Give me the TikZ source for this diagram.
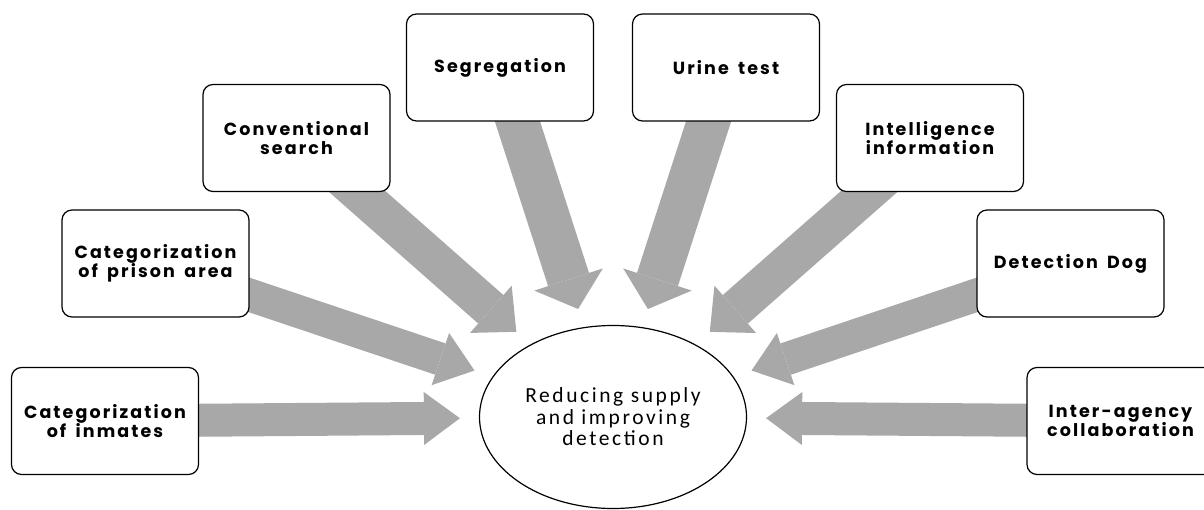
\documentclass[tikz,border=0pt]{standalone}
\usepackage{fontspec}
\setmainfont{Poppins}[LetterSpace=12, WordSpace=1.6]
\newfontfamily\goalfont[LetterSpace=12]{Carlito}
\usetikzlibrary{arrows.meta,shapes.geometric,backgrounds}
\definecolor{feedgray}{RGB}{168,168,168}
\tikzset{
  factor/.style={draw=black, line width=1.2pt, fill=white, rounded corners=10pt,
    minimum width=187pt, minimum height=107pt, align=center,
    font=\fontsize{17.5}{19}\selectfont\bfseries},
  feed/.style n args={3}{draw=feedgray, line width=#1, shorten >=19pt,
    -{Triangle[width=#2, length=#3, line width=0pt]}}
}
\begin{document}
\begin{tikzpicture}[x=1pt, y=-1pt]
  \useasboundingbox (0,0) rectangle (1204,510);
  % Centre goal
  \node[draw=black, line width=1.2pt, fill=white, ellipse, minimum width=267pt,
    minimum height=183pt, align=center, font=\goalfont\fontsize{21.5}{21.5}\selectfont]
    (goal) at (613,417) {Reducing supply\\and improving\\detection};
  % Measures around it
  \node[factor] (inmates) at (105,421)    {Categorization\\of inmates};
  \node[factor] (area)    at (155.5,263.5) {Categorization\\of prison area};
  \node[factor] (search)  at (296.5,138)  {Conventional\\search};
  \node[factor] (segr)    at (500,67.5)   {Segregation};
  \node[factor] (urine)   at (726,67.5)   {Urine test};
  \node[factor] (intel)   at (930,138)    {Intelligence\\information};
  \node[factor] (dog)     at (1070.5,263.5) {Detection Dog};
  \node[factor] (agency)  at (1120.5,421) {Inter-agency\\collaboration};
  % Block arrows into the goal
  \begin{scope}[on background layer]
    \draw[feed={33pt}{53pt}{36pt}] (inmates.center) -- (goal);
    \draw[feed={33pt}{55pt}{36pt}] (area.center) -- (goal);
    \draw[feed={38pt}{63pt}{34pt}] (search.center) -- (goal);
    \draw[feed={43pt}{72pt}{31pt}] (segr.center) -- (goal);
    \draw[feed={43pt}{72pt}{31pt}] (urine.center) -- (goal);
    \draw[feed={38pt}{63pt}{34pt}] (intel.center) -- (goal);
    \draw[feed={33pt}{55pt}{36pt}] (dog.center) -- (goal);
    \draw[feed={33pt}{53pt}{36pt}] (agency.center) -- (goal);
  \end{scope}
\end{tikzpicture}
\end{document}
